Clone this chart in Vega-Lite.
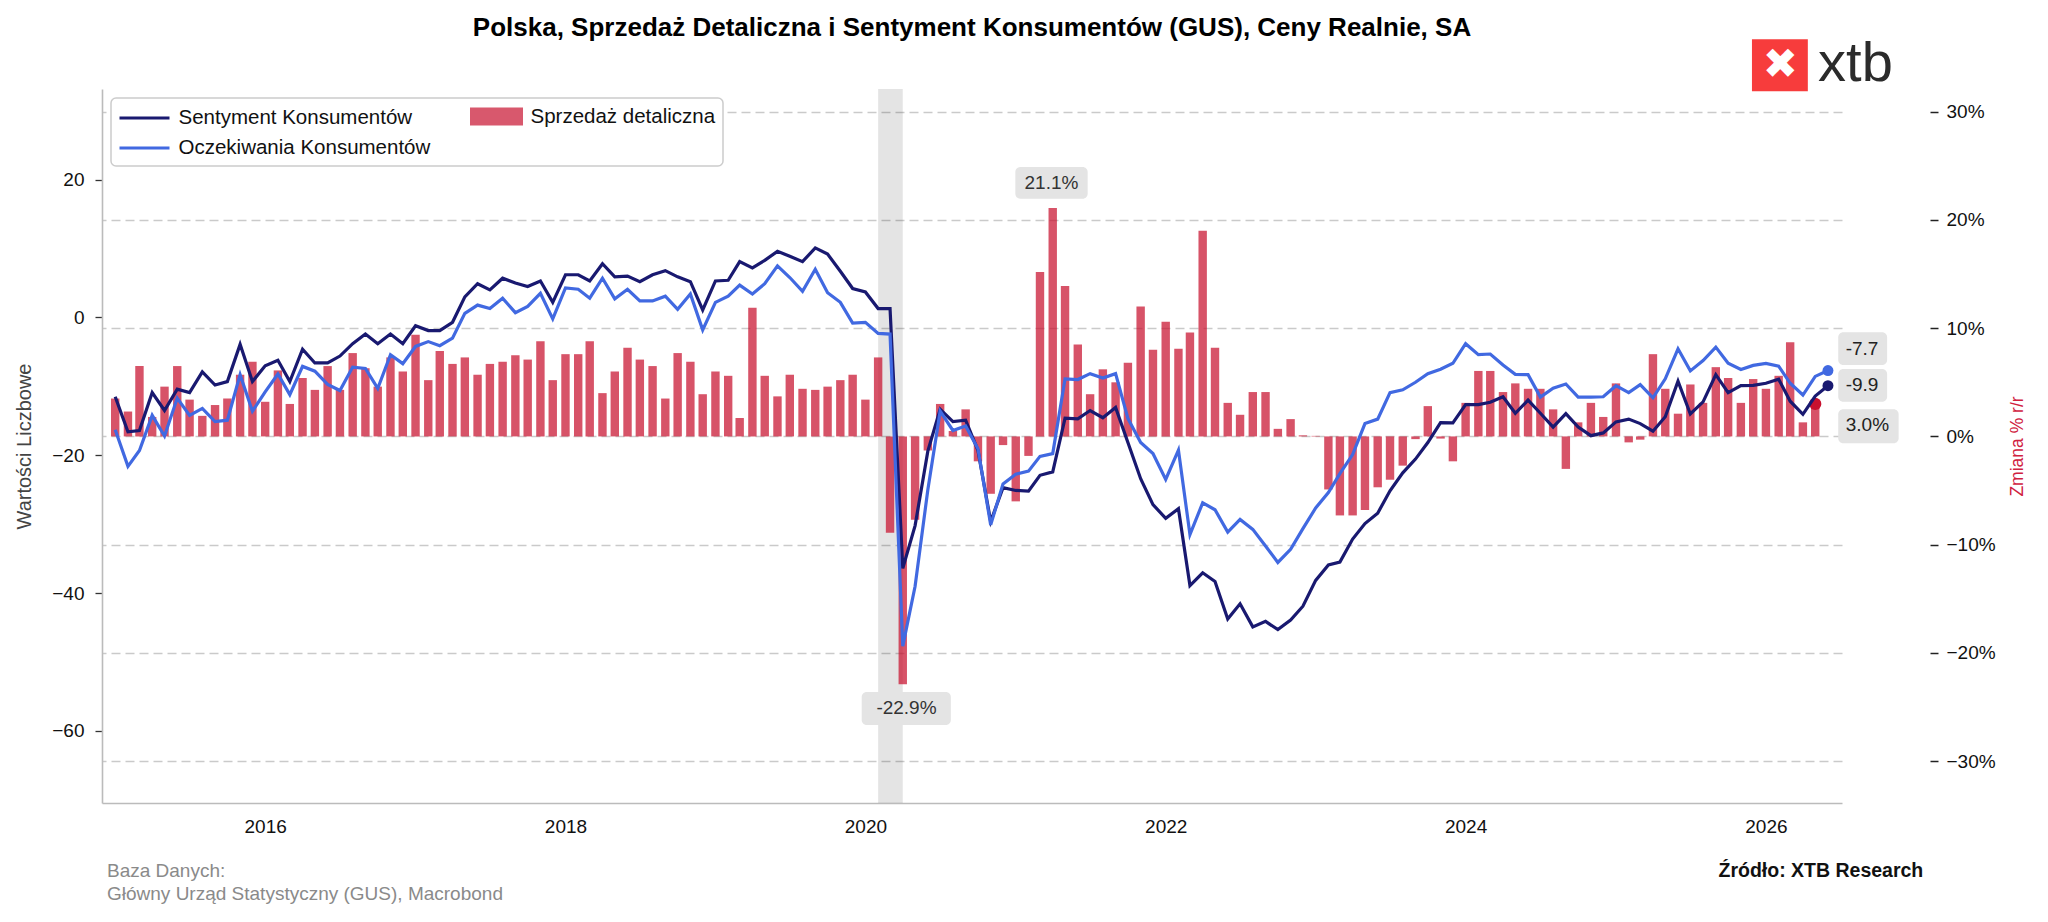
{
  "$schema": "https://vega.github.io/schema/vega-lite/v6.json",
  "width": 1740,
  "height": 714,
  "autosize": {"type": "none"},
  "padding": {"left": 102, "top": 89, "right": 206, "bottom": 119},
  "background": "white",
  "config": {
    "font": "Liberation Sans",
    "view": {"stroke": null},
    "axis": {"labelFont": "Liberation Sans", "titleFont": "Liberation Sans"},
    "legend": {"labelFont": "Liberation Sans"}
  },
  "title": {
    "text": "Polska, Sprzedaż Detaliczna i Sentyment Konsumentów (GUS), Ceny Realnie, SA",
    "font": "Liberation Sans",
    "fontSize": 26,
    "fontWeight": "bold",
    "color": "#000000",
    "anchor": "middle",
    "frame": "group",
    "offset": -5
  },
  "data": {
    "format": {"parse": {"d": "utc:'%Y-%m'"}},
    "values": [
      {"d": "2015-01", "sk": -11.5, "ok": -16.3, "sd": 3.5},
      {"d": "2015-02", "sk": -16.6, "ok": -21.6, "sd": 2.3},
      {"d": "2015-03", "sk": -16.4, "ok": -19.3, "sd": 6.5},
      {"d": "2015-04", "sk": -10.9, "ok": -14.2, "sd": 1.8},
      {"d": "2015-05", "sk": -13.5, "ok": -17.2, "sd": 4.6},
      {"d": "2015-06", "sk": -10.4, "ok": -11.7, "sd": 6.5},
      {"d": "2015-07", "sk": -10.9, "ok": -14.2, "sd": 3.4},
      {"d": "2015-08", "sk": -7.9, "ok": -13.2, "sd": 1.9},
      {"d": "2015-09", "sk": -9.8, "ok": -15.1, "sd": 2.9},
      {"d": "2015-10", "sk": -9.3, "ok": -14.9, "sd": 3.5},
      {"d": "2015-11", "sk": -3.9, "ok": -8.3, "sd": 5.7},
      {"d": "2015-12", "sk": -9.3, "ok": -13.6, "sd": 6.9},
      {"d": "2016-01", "sk": -7.0, "ok": -10.8, "sd": 3.2},
      {"d": "2016-02", "sk": -6.2, "ok": -8.2, "sd": 6.1},
      {"d": "2016-03", "sk": -9.3, "ok": -11.2, "sd": 3.0},
      {"d": "2016-04", "sk": -4.6, "ok": -7.1, "sd": 5.4},
      {"d": "2016-05", "sk": -6.6, "ok": -7.8, "sd": 4.3},
      {"d": "2016-06", "sk": -6.6, "ok": -9.7, "sd": 6.5},
      {"d": "2016-07", "sk": -5.6, "ok": -10.6, "sd": 4.3},
      {"d": "2016-08", "sk": -3.8, "ok": -7.2, "sd": 7.7},
      {"d": "2016-09", "sk": -2.4, "ok": -7.4, "sd": 6.3},
      {"d": "2016-10", "sk": -3.8, "ok": -10.3, "sd": 4.6},
      {"d": "2016-11", "sk": -2.4, "ok": -5.4, "sd": 7.3},
      {"d": "2016-12", "sk": -3.8, "ok": -6.7, "sd": 6.0},
      {"d": "2017-01", "sk": -1.2, "ok": -4.2, "sd": 9.4},
      {"d": "2017-02", "sk": -1.9, "ok": -3.5, "sd": 5.2},
      {"d": "2017-03", "sk": -1.9, "ok": -4.1, "sd": 7.9},
      {"d": "2017-04", "sk": -0.7, "ok": -3.0, "sd": 6.7},
      {"d": "2017-05", "sk": 3.0, "ok": 0.6, "sd": 7.3},
      {"d": "2017-06", "sk": 4.9, "ok": 1.8, "sd": 5.7},
      {"d": "2017-07", "sk": 4.0, "ok": 1.3, "sd": 6.7},
      {"d": "2017-08", "sk": 5.7, "ok": 2.8, "sd": 6.9},
      {"d": "2017-09", "sk": 5.0, "ok": 0.7, "sd": 7.5},
      {"d": "2017-10", "sk": 4.5, "ok": 1.6, "sd": 7.1},
      {"d": "2017-11", "sk": 5.3, "ok": 3.5, "sd": 8.8},
      {"d": "2017-12", "sk": 2.2, "ok": -0.2, "sd": 5.2},
      {"d": "2018-01", "sk": 6.2, "ok": 4.3, "sd": 7.6},
      {"d": "2018-02", "sk": 6.2, "ok": 4.1, "sd": 7.6},
      {"d": "2018-03", "sk": 5.3, "ok": 2.8, "sd": 8.8},
      {"d": "2018-04", "sk": 7.8, "ok": 5.7, "sd": 4.0},
      {"d": "2018-05", "sk": 5.9, "ok": 2.7, "sd": 6.0},
      {"d": "2018-06", "sk": 6.0, "ok": 4.1, "sd": 8.2},
      {"d": "2018-07", "sk": 5.2, "ok": 2.4, "sd": 7.1},
      {"d": "2018-08", "sk": 6.2, "ok": 2.4, "sd": 6.5},
      {"d": "2018-09", "sk": 6.8, "ok": 3.1, "sd": 3.5},
      {"d": "2018-10", "sk": 5.9, "ok": 1.2, "sd": 7.7},
      {"d": "2018-11", "sk": 5.2, "ok": 3.4, "sd": 6.9},
      {"d": "2018-12", "sk": 1.1, "ok": -1.8, "sd": 3.9},
      {"d": "2019-01", "sk": 5.3, "ok": 2.2, "sd": 6.0},
      {"d": "2019-02", "sk": 5.4, "ok": 3.1, "sd": 5.6},
      {"d": "2019-03", "sk": 8.1, "ok": 4.7, "sd": 1.7},
      {"d": "2019-04", "sk": 7.2, "ok": 3.4, "sd": 11.9},
      {"d": "2019-05", "sk": 8.3, "ok": 4.9, "sd": 5.6},
      {"d": "2019-06", "sk": 9.6, "ok": 7.5, "sd": 3.7},
      {"d": "2019-07", "sk": 8.9, "ok": 5.8, "sd": 5.7},
      {"d": "2019-08", "sk": 8.1, "ok": 3.8, "sd": 4.4},
      {"d": "2019-09", "sk": 10.1, "ok": 7.0, "sd": 4.3},
      {"d": "2019-10", "sk": 9.2, "ok": 3.6, "sd": 4.6},
      {"d": "2019-11", "sk": 6.7, "ok": 2.2, "sd": 5.2},
      {"d": "2019-12", "sk": 4.2, "ok": -0.8, "sd": 5.7},
      {"d": "2020-01", "sk": 3.7, "ok": -0.7, "sd": 3.4},
      {"d": "2020-02", "sk": 1.3, "ok": -2.3, "sd": 7.3},
      {"d": "2020-03", "sk": 1.3, "ok": -2.4, "sd": -8.9},
      {"d": "2020-04", "sk": -36.4, "ok": -47.7, "sd": -22.9},
      {"d": "2020-05", "sk": -30.2, "ok": -39.0, "sd": -7.7},
      {"d": "2020-06", "sk": -19.4, "ok": -25.0, "sd": -1.3},
      {"d": "2020-07", "sk": -13.3, "ok": -13.6, "sd": 3.0},
      {"d": "2020-08", "sk": -15.1, "ok": -16.4, "sd": 0.5},
      {"d": "2020-09", "sk": -14.9, "ok": -15.75, "sd": 2.5},
      {"d": "2020-10", "sk": -19.3, "ok": -19.05, "sd": -2.3},
      {"d": "2020-11", "sk": -29.6, "ok": -30.1, "sd": -5.3},
      {"d": "2020-12", "sk": -24.7, "ok": -24.15, "sd": -0.8},
      {"d": "2021-01", "sk": -25.1, "ok": -22.75, "sd": -6.0},
      {"d": "2021-02", "sk": -25.2, "ok": -22.3, "sd": -1.8},
      {"d": "2021-03", "sk": -22.9, "ok": -20.15, "sd": 15.2},
      {"d": "2021-04", "sk": -22.4, "ok": -19.75, "sd": 21.1},
      {"d": "2021-05", "sk": -14.6, "ok": -8.9, "sd": 13.9},
      {"d": "2021-06", "sk": -14.7, "ok": -9.0, "sd": 8.5},
      {"d": "2021-07", "sk": -13.5, "ok": -8.15, "sd": 3.9},
      {"d": "2021-08", "sk": -14.55, "ok": -8.8, "sd": 6.2},
      {"d": "2021-09", "sk": -13.05, "ok": -8.15, "sd": 5.0},
      {"d": "2021-10", "sk": -18.15, "ok": -14.65, "sd": 6.8},
      {"d": "2021-11", "sk": -23.4, "ok": -18.15, "sd": 12.0},
      {"d": "2021-12", "sk": -27.15, "ok": -19.75, "sd": 8.0},
      {"d": "2022-01", "sk": -29.15, "ok": -23.5, "sd": 10.6},
      {"d": "2022-02", "sk": -27.75, "ok": -19.25, "sd": 8.1},
      {"d": "2022-03", "sk": -38.9, "ok": -31.5, "sd": 9.6},
      {"d": "2022-04", "sk": -37.05, "ok": -26.9, "sd": 19.0},
      {"d": "2022-05", "sk": -38.3, "ok": -27.9, "sd": 8.2},
      {"d": "2022-06", "sk": -43.75, "ok": -31.15, "sd": 3.1},
      {"d": "2022-07", "sk": -41.55, "ok": -29.3, "sd": 2.0},
      {"d": "2022-08", "sk": -44.9, "ok": -30.75, "sd": 4.1},
      {"d": "2022-09", "sk": -44.1, "ok": -33.15, "sd": 4.1},
      {"d": "2022-10", "sk": -45.3, "ok": -35.55, "sd": 0.7},
      {"d": "2022-11", "sk": -43.9, "ok": -33.65, "sd": 1.6},
      {"d": "2022-12", "sk": -41.9, "ok": -30.65, "sd": 0.1},
      {"d": "2023-01", "sk": -38.15, "ok": -27.65, "sd": 0.05},
      {"d": "2023-02", "sk": -35.9, "ok": -25.4, "sd": -4.9},
      {"d": "2023-03", "sk": -35.5, "ok": -22.65, "sd": -7.3},
      {"d": "2023-04", "sk": -32.15, "ok": -19.9, "sd": -7.3},
      {"d": "2023-05", "sk": -29.9, "ok": -15.4, "sd": -6.8},
      {"d": "2023-06", "sk": -28.4, "ok": -14.75, "sd": -4.7},
      {"d": "2023-07", "sk": -25.15, "ok": -10.9, "sd": -4.0},
      {"d": "2023-08", "sk": -22.55, "ok": -10.5, "sd": -2.7},
      {"d": "2023-09", "sk": -20.55, "ok": -9.4, "sd": -0.25},
      {"d": "2023-10", "sk": -18.15, "ok": -8.15, "sd": 2.8},
      {"d": "2023-11", "sk": -15.25, "ok": -7.5, "sd": -0.2},
      {"d": "2023-12", "sk": -15.3, "ok": -6.65, "sd": -2.3},
      {"d": "2024-01", "sk": -12.65, "ok": -3.8, "sd": 3.1},
      {"d": "2024-02", "sk": -12.65, "ok": -5.4, "sd": 6.05},
      {"d": "2024-03", "sk": -12.3, "ok": -5.3, "sd": 6.05},
      {"d": "2024-04", "sk": -11.5, "ok": -6.9, "sd": 4.1},
      {"d": "2024-05", "sk": -13.9, "ok": -8.25, "sd": 4.9},
      {"d": "2024-06", "sk": -12.0, "ok": -8.3, "sd": 4.4},
      {"d": "2024-07", "sk": -13.9, "ok": -11.55, "sd": 4.4},
      {"d": "2024-08", "sk": -15.9, "ok": -10.25, "sd": 2.5},
      {"d": "2024-09", "sk": -13.95, "ok": -9.65, "sd": -3.0},
      {"d": "2024-10", "sk": -15.9, "ok": -11.55, "sd": 1.3},
      {"d": "2024-11", "sk": -17.15, "ok": -11.55, "sd": 3.1},
      {"d": "2024-12", "sk": -16.75, "ok": -11.5, "sd": 1.8},
      {"d": "2025-01", "sk": -15.15, "ok": -9.9, "sd": 4.9},
      {"d": "2025-02", "sk": -14.75, "ok": -10.9, "sd": -0.55},
      {"d": "2025-03", "sk": -15.4, "ok": -9.75, "sd": -0.3},
      {"d": "2025-04", "sk": -16.5, "ok": -11.65, "sd": 7.6},
      {"d": "2025-05", "sk": -14.4, "ok": -8.9, "sd": 4.4},
      {"d": "2025-06", "sk": -9.25, "ok": -4.55, "sd": 2.1},
      {"d": "2025-07", "sk": -14.0, "ok": -7.75, "sd": 4.8},
      {"d": "2025-08", "sk": -12.25, "ok": -6.25, "sd": 3.1},
      {"d": "2025-09", "sk": -8.3, "ok": -4.3, "sd": 6.4},
      {"d": "2025-10", "sk": -10.9, "ok": -6.65, "sd": 5.4},
      {"d": "2025-11", "sk": -9.9, "ok": -7.55, "sd": 3.1},
      {"d": "2025-12", "sk": -9.85, "ok": -6.95, "sd": 5.3},
      {"d": "2026-01", "sk": -9.55, "ok": -6.65, "sd": 4.4},
      {"d": "2026-02", "sk": -8.95, "ok": -7.05, "sd": 5.6},
      {"d": "2026-03", "sk": -12.15, "ok": -9.55, "sd": 8.7},
      {"d": "2026-04", "sk": -14.05, "ok": -11.25, "sd": 1.3},
      {"d": "2026-05", "sk": -11.4, "ok": -8.55, "sd": 3.0},
      {"d": "2026-06", "sk": -9.9, "ok": -7.7, "sd": null}
    ]
  },
  "layer": [
    {
      "layer": [
        {
          "data": {"values": [{}]},
          "mark": {"type": "rect", "fill": "#000000", "opacity": 0.105},
          "encoding": {
            "x": {"datum": {"year": 2020, "month": 2, "date": 1, "utc": true}, "type": "temporal"},
            "x2": {"datum": {"year": 2020, "month": 4, "date": 1, "utc": true}}
          }
        },
        {
          "mark": {"type": "bar", "size": 8.4, "color": "#c8102e", "opacity": 0.72},
          "encoding": {
            "x": {
              "field": "d",
              "type": "temporal",
              "scale": {
                "type": "utc",
                "domain": [
                  {"year": 2014, "month": 12, "date": 12, "utc": true},
                  {"year": 2026, "month": 6, "date": 23, "utc": true}
                ]
              },
              "axis": {
                "title": null,
                "values": [
                  {"year": 2016, "month": 1, "date": 1, "utc": true},
                  {"year": 2018, "month": 1, "date": 1, "utc": true},
                  {"year": 2020, "month": 1, "date": 1, "utc": true},
                  {"year": 2022, "month": 1, "date": 1, "utc": true},
                  {"year": 2024, "month": 1, "date": 1, "utc": true},
                  {"year": 2026, "month": 1, "date": 1, "utc": true}
                ],
                "format": "%Y",
                "labelFontSize": 19,
                "labelColor": "#111111",
                "labelPadding": 14,
                "domain": true,
                "domainColor": "#bbbbbb",
                "domainWidth": 1.6,
                "ticks": false,
                "grid": false
              }
            },
            "y": {
              "field": "sd",
              "type": "quantitative",
              "scale": {"domain": [-33.87, 32.1], "nice": false, "zero": false},
              "axis": {
                "orient": "right",
                "offset": 88,
                "values": [30, 20, 10, 0, -10, -20, -30],
                "labelExpr": "format(datum.value, 'd') + '%'",
                "labelFontSize": 19,
                "labelColor": "#111111",
                "labelPadding": 8,
                "domain": false,
                "ticks": true,
                "tickSize": 8,
                "tickColor": "#222222",
                "tickWidth": 1.5,
                "grid": true,
                "gridColor": "#cacaca",
                "gridDash": [9, 5],
                "gridWidth": 1.7,
                "title": "Zmiana % r/r",
                "titleColor": "#d0213f",
                "titleFontSize": 17.5,
                "titleFontWeight": "normal",
                "titleAngle": 270,
                "titleBaseline": "top",
                "titlePadding": 13
              }
            }
          }
        },
        {
          "transform": [{"filter": "utcyear(datum.d) == 2026 && utcmonth(datum.d) == 4"}],
          "mark": {"type": "circle", "size": 150, "opacity": 1, "color": "#c8102e"},
          "encoding": {
            "x": {"field": "d", "type": "temporal"},
            "y": {"field": "sd", "type": "quantitative"}
          }
        },
        {
          "data": {"values": [{}]},
          "mark": {"type": "rect", "fill": "#e4e4e4", "cornerRadius": 5},
          "encoding": {
            "x": {"datum": {"year": 2020, "month": 12, "date": 31, "utc": true}, "type": "temporal"},
            "x2": {"datum": {"year": 2021, "month": 6, "date": 25, "utc": true}},
            "y": {"datum": 24.9, "type": "quantitative"},
            "y2": {"datum": 21.95}
          }
        },
        {
          "data": {"values": [{}]},
          "mark": {"type": "text", "text": "21.1%", "fontSize": 19, "color": "#333333", "align": "center", "baseline": "middle"},
          "encoding": {
            "x": {"datum": {"year": 2021, "month": 3, "date": 29, "utc": true}, "type": "temporal"},
            "y": {"datum": 23.4, "type": "quantitative"}
          }
        },
        {
          "data": {"values": [{}]},
          "mark": {"type": "rect", "fill": "#e4e4e4", "cornerRadius": 5},
          "encoding": {
            "x": {"datum": {"year": 2019, "month": 12, "date": 23, "utc": true}, "type": "temporal"},
            "x2": {"datum": {"year": 2020, "month": 7, "date": 27, "utc": true}},
            "y": {"datum": -23.61, "type": "quantitative"},
            "y2": {"datum": -26.66}
          }
        },
        {
          "data": {"values": [{}]},
          "mark": {"type": "text", "text": "-22.9%", "fontSize": 19, "color": "#333333", "align": "center", "baseline": "middle"},
          "encoding": {
            "x": {"datum": {"year": 2020, "month": 4, "date": 10, "utc": true}, "type": "temporal"},
            "y": {"datum": -25.1, "type": "quantitative"}
          }
        },
        {
          "data": {"values": [{}]},
          "mark": {"type": "rect", "fill": "#e4e4e4", "cornerRadius": 5},
          "encoding": {
            "x": {"datum": {"year": 2026, "month": 6, "date": 26, "utc": true}, "type": "temporal"},
            "x2": {"datum": {"year": 2026, "month": 11, "date": 20, "utc": true}},
            "y": {"datum": 2.51, "type": "quantitative"},
            "y2": {"datum": -0.63}
          }
        },
        {
          "data": {"values": [{}]},
          "mark": {"type": "text", "text": "3.0%", "fontSize": 19, "color": "#222222", "align": "center", "baseline": "middle"},
          "encoding": {
            "x": {"datum": {"year": 2026, "month": 9, "date": 5, "utc": true}, "type": "temporal"},
            "y": {"datum": 1.04, "type": "quantitative"}
          }
        }
      ]
    },
    {
      "layer": [
        {
          "transform": [{"fold": ["sk", "ok"], "as": ["key", "val"]}],
          "mark": {"type": "line", "strokeWidth": 3.2},
          "encoding": {
            "x": {"field": "d", "type": "temporal"},
            "y": {
              "field": "val",
              "type": "quantitative",
              "scale": {"domain": [-70.46, 33.16], "nice": false, "zero": false},
              "axis": {
                "orient": "left",
                "values": [20, 0, -20, -40, -60],
                "format": "d",
                "labelFontSize": 19,
                "labelColor": "#111111",
                "labelPadding": 11,
                "domain": true,
                "domainColor": "#bbbbbb",
                "domainWidth": 1.6,
                "ticks": true,
                "tickSize": 7,
                "tickColor": "#333333",
                "tickWidth": 1.3,
                "grid": false,
                "title": "Wartości Liczbowe",
                "titleColor": "#444444",
                "titleFontSize": 20,
                "titleFontWeight": "normal",
                "titlePadding": 17
              }
            },
            "color": {
              "field": "key",
              "type": "nominal",
              "scale": {"domain": ["sk", "sd", "ok"], "range": ["#191970", "#d8586d", "#4169e1"]},
              "legend": {
                "title": null,
                "orient": "top-left",
                "direction": "horizontal",
                "offset": 9,
                "columns": 2,
                "columnPadding": 34,
                "rowPadding": 6.5,
                "padding": 7,
                "labelFontSize": 20.5,
                "labelColor": "#111111",
                "labelLimit": 600,
                "labelOffset": 22.5,
                "symbolSize": 400,
                "symbolOffset": 15,
                "strokeColor": "#cccccc",
                "fillColor": "#ffffff",
                "cornerRadius": 5,
                "labelExpr": "datum.label == 'sk' ? 'Sentyment Konsumentów' : datum.label == 'sd' ? 'Sprzedaż detaliczna' : 'Oczekiwania Konsumentów'",
                "encode": {
                  "legend": {"update": {"strokeWidth": {"value": 1.5}}},
                  "symbols": {
                    "update": {
                      "shape": [
                        {"test": "datum.value == 'sd'", "value": "M-2.5,-0.75H2.5V0.75H-2.5Z"},
                        {"value": "M-2.5,0H2.5"}
                      ],
                      "fill": [
                        {"test": "datum.value == 'sd'", "value": "#d8586d"},
                        {"value": "transparent"}
                      ],
                      "stroke": [
                        {"test": "datum.value == 'sd'", "value": "transparent"},
                        {"test": "datum.value == 'sk'", "value": "#191970"},
                        {"value": "#4169e1"}
                      ],
                      "strokeWidth": {"value": 3},
                      "opacity": {"value": 1}
                    }
                  }
                }
              }
            }
          }
        },
        {
          "transform": [
            {"fold": ["sk", "ok"], "as": ["key", "val"]},
            {"filter": "utcyear(datum.d) == 2026 && utcmonth(datum.d) == 5"}
          ],
          "mark": {"type": "circle", "size": 120, "opacity": 1},
          "encoding": {
            "x": {"field": "d", "type": "temporal"},
            "y": {"field": "val", "type": "quantitative"},
            "fill": {"condition": {"test": "datum.key == 'sk'", "value": "#191970"}, "value": "#4169e1"}
          }
        },
        {
          "data": {"values": [{}]},
          "mark": {"type": "rect", "fill": "#e4e4e4", "cornerRadius": 5},
          "encoding": {
            "x": {"datum": {"year": 2026, "month": 6, "date": 26, "utc": true}, "type": "temporal"},
            "x2": {"datum": {"year": 2026, "month": 10, "date": 23, "utc": true}},
            "y": {"datum": -2.15, "type": "quantitative"},
            "y2": {"datum": -6.89}
          }
        },
        {
          "data": {"values": [{}]},
          "mark": {"type": "rect", "fill": "#e4e4e4", "cornerRadius": 5},
          "encoding": {
            "x": {"datum": {"year": 2026, "month": 6, "date": 26, "utc": true}, "type": "temporal"},
            "x2": {"datum": {"year": 2026, "month": 10, "date": 23, "utc": true}},
            "y": {"datum": -7.47, "type": "quantitative"},
            "y2": {"datum": -12.22}
          }
        },
        {
          "data": {"values": [{}]},
          "mark": {"type": "text", "text": "-7.7", "fontSize": 19, "color": "#222222", "align": "center", "baseline": "middle"},
          "encoding": {
            "x": {"datum": {"year": 2026, "month": 8, "date": 23, "utc": true}, "type": "temporal"},
            "y": {"datum": -4.53, "type": "quantitative"}
          }
        },
        {
          "data": {"values": [{}]},
          "mark": {"type": "text", "text": "-9.9", "fontSize": 19, "color": "#222222", "align": "center", "baseline": "middle"},
          "encoding": {
            "x": {"datum": {"year": 2026, "month": 8, "date": 23, "utc": true}, "type": "temporal"},
            "y": {"datum": -9.8, "type": "quantitative"}
          }
        },
        {
          "data": {"values": [{}]},
          "mark": {"type": "rect", "fill": "#f73c3c"},
          "encoding": {
            "x": {"datum": {"year": 2025, "month": 11, "date": 28, "utc": true}, "type": "temporal"},
            "x2": {"datum": {"year": 2026, "month": 4, "date": 13, "utc": true}},
            "y": {"datum": 40.39, "type": "quantitative"},
            "y2": {"datum": 32.82}
          }
        },
        {
          "data": {"values": [{}]},
          "mark": {"type": "text", "text": "✖", "font": "DejaVu Sans", "fontSize": 42, "color": "#ffffff", "align": "center", "baseline": "middle"},
          "encoding": {
            "x": {"datum": {"year": 2026, "month": 2, "date": 5, "utc": true}, "type": "temporal"},
            "y": {"datum": 36.6, "type": "quantitative"}
          }
        },
        {
          "data": {"values": [{}]},
          "mark": {"type": "text", "text": "xtb", "fontSize": 56, "color": "#2b2b2b", "align": "left", "baseline": "alphabetic"},
          "encoding": {
            "x": {"datum": {"year": 2026, "month": 5, "date": 8, "utc": true}, "type": "temporal"},
            "y": {"datum": 34.3, "type": "quantitative"}
          }
        },
        {
          "data": {"values": [{}]},
          "mark": {"type": "text", "text": "Baza Danych:\nGłówny Urząd Statystyczny (GUS), Macrobond", "lineBreak": "\n", "lineHeight": 23, "fontSize": 19, "color": "#8a8a8a", "align": "left", "baseline": "alphabetic"},
          "encoding": {
            "x": {"datum": {"year": 2014, "month": 12, "date": 12, "utc": true}, "type": "temporal"},
            "y": {"datum": -81.2, "type": "quantitative"}
          }
        },
        {
          "data": {"values": [{}]},
          "mark": {"type": "text", "text": "Źródło: XTB Research", "fontSize": 19.5, "fontWeight": "bold", "color": "#111111", "align": "right", "baseline": "alphabetic"},
          "encoding": {
            "x": {"datum": {"year": 2027, "month": 1, "date": 19, "utc": true}, "type": "temporal"},
            "y": {"datum": -81.2, "type": "quantitative"}
          }
        }
      ]
    }
  ],
  "resolve": {"scale": {"y": "independent"}}
}
